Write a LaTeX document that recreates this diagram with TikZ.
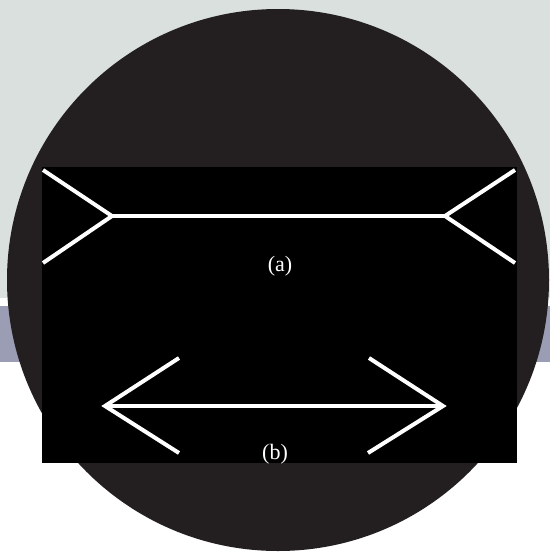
\documentclass[tikz,border=0pt]{standalone}
\usepackage{fontspec}
\setmainfont{Liberation Serif}
\definecolor{bgtop}{HTML}{D9E0DD}
\definecolor{bgband}{HTML}{9A9DB4}
\definecolor{disc}{HTML}{231F20}
\tikzset{
  wline/.style={draw=white, line width=4pt, line join=miter},
  lbl/.style={text=white, inner sep=0pt, font=\fontsize{22}{22}\selectfont}
}
\begin{document}
\begin{tikzpicture}[x=1pt,y=-1pt]
\useasboundingbox (0,0) rectangle (550,552);
\fill[white] (0,0) rectangle (550,552);
\fill[bgtop] (0,0) rectangle (550,298);
\fill[bgband] (0,306) rectangle (550,362);
\fill[disc] (278,280) circle[radius=271];
\fill[black] (42,167) rectangle (517,463);
% figure (a)
\coordinate (a1) at (43,170);
\coordinate (av) at (112,216);
\coordinate (a2) at (43,263);
\coordinate (bv) at (445,216);
\coordinate (b1) at (515,170);
\coordinate (b2) at (515,263);
\draw[wline] (a1) -- (av) -- (a2);
\draw[wline] (av) -- (bv);
\draw[wline] (b1) -- (bv) -- (b2);
\node[lbl] (la) at (280,266) {(a)};
% figure (b)
\coordinate (c1) at (179,358);
\coordinate (cv) at (105,406);
\coordinate (c2) at (179,453);
\coordinate (dv) at (443,406);
\coordinate (d1) at (369,358);
\coordinate (d2) at (368,453);
\draw[wline] (c1) -- (cv) -- (c2);
\draw[wline] (d1) -- (dv) -- (d2);
\draw[wline] (cv) -- (dv);
\node[lbl] (lb) at (275,454) {(b)};
\end{tikzpicture}
\end{document}
